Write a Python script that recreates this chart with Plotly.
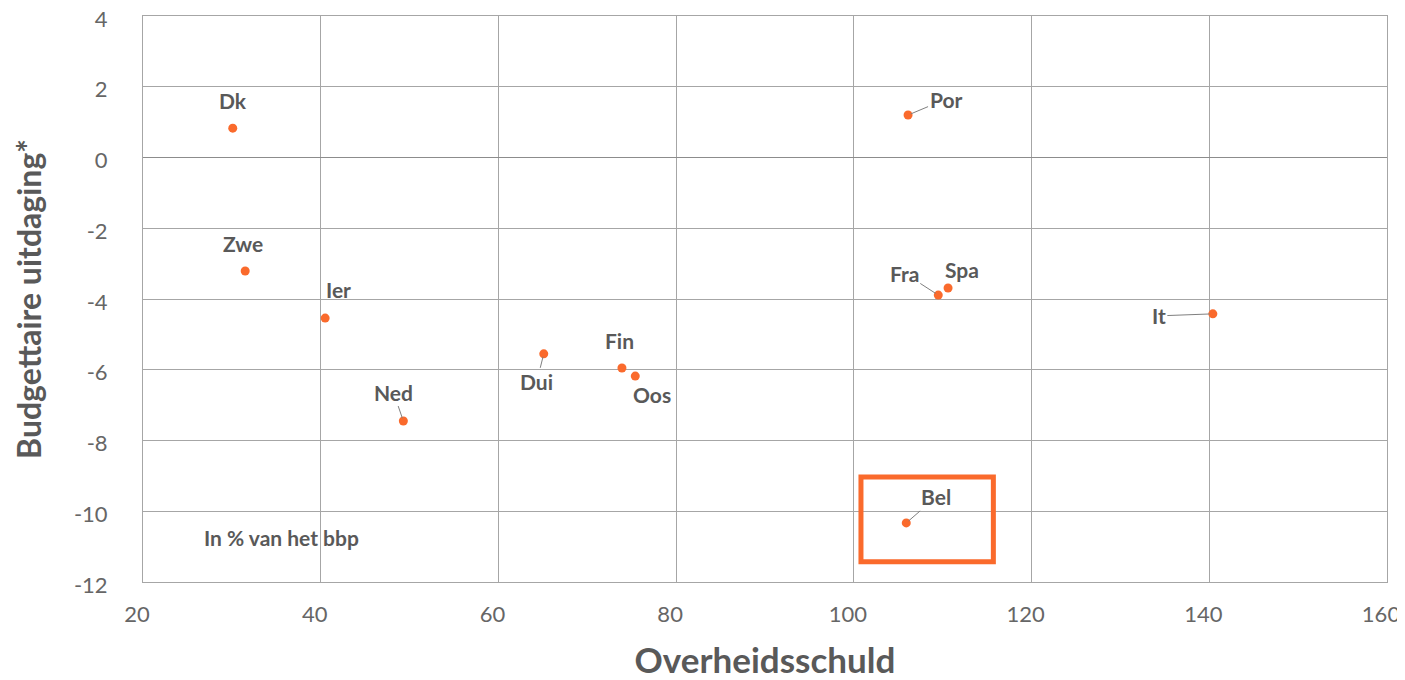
import plotly.graph_objects as go

countries = ["Dk", "Zwe", "Ier", "Ned", "Dui", "Fin", "Oos", "Por", "Fra", "Spa", "It", "Bel"]
schuld = [30.1, 31.5, 40.5, 49.3, 65.1, 73.9, 75.4, 106.1, 109.5, 110.6, 140.4, 105.9]
uitdaging = [0.83, -3.21, -4.54, -7.45, -5.55, -5.95, -6.18, 1.2, -3.89, -3.69, -4.42, -10.33]

# label offsets in pixels (ax, ay) and whether a leader line is drawn
label_ax = [0, -2, 13, -10, -7, -2, 17, 38, -34, 14, -54, 30]
label_ay = [-28, -28, -29, -29, 28, -27, 18, -16, -22, -19, 2, -26]
leader = [False, False, False, True, True, False, False, True, True, False, True, True]

x_ticks = [20, 40, 60, 80, 100, 120, 140, 160]
x_ticktext = ["20", "40", "60", "80", "100", "120", "140", "160"]
y_ticks = [4, 2, 0, -2, -4, -6, -8, -10, -12]
y_ticktext = ["4", "2", "0", "-2", "-4", "-6", "-8", "-10", "-12"]

ORANGE = "#FA6A2C"
GREY = "#595959"
TICKGREY = "#666666"
GRID = "#A6A6A6"
FONT = "Lato, 'Open Sans', sans-serif"

fig = go.Figure()
fig.add_trace(go.Scatter(
    x=schuld, y=uitdaging, mode="markers",
    marker=dict(color=ORANGE, size=9),
    hovertext=countries, showlegend=False,
))

for c, xv, yv, ax, ay, ld in zip(countries, schuld, uitdaging, label_ax, label_ay, leader):
    fig.add_annotation(
        x=xv, y=yv, text="<b>%s</b>" % c,
        showarrow=True, ax=ax, ay=ay,
        arrowhead=0, arrowwidth=1,
        arrowcolor="#7F7F7F" if ld else "rgba(0,0,0,0)",
        standoff=3, startstandoff=0,
        font=dict(family=FONT, size=21, color=GREY),
    )

fig.add_annotation(
    x=35.6, y=-10.73, text="<b>In % van het bbp</b>", showarrow=False,
    font=dict(family=FONT, size=21, color=GREY),
)

# highlight box around Belgium
fig.add_shape(
    type="rect", x0=100.8, x1=115.7, y0=-11.43, y1=-9.03,
    line=dict(color=ORANGE, width=5), fillcolor="rgba(0,0,0,0)",
)

fig.update_xaxes(
    range=[20, 160], tickvals=x_ticks, ticktext=x_ticktext,
    showgrid=True, gridcolor=GRID, gridwidth=1,
    zeroline=False, showline=True, linecolor=GRID, mirror=True, automargin=False,
    ticklabeloverflow="allow", ticklabelshift=-6,
    tickfont=dict(family=FONT, size=22, color=TICKGREY), ticklabelstandoff=13,
    title=dict(text="<b>Overheidsschuld</b>", font=dict(family=FONT, size=35, color=GREY), standoff=36),
)
fig.update_yaxes(
    range=[-12, 4], tickvals=y_ticks, ticktext=y_ticktext,
    showgrid=True, gridcolor=GRID, gridwidth=1,
    zeroline=True, zerolinecolor="#8C8C8C", zerolinewidth=1,
    showline=True, linecolor=GRID, mirror=True, automargin=False,
    ticklabeloverflow="allow", ticklabelshift=3,
    tickfont=dict(family=FONT, size=22, color=TICKGREY), ticklabelstandoff=30,
    title=dict(text="<b>Budgettaire uitdaging*</b>", font=dict(family=FONT, size=32, color=GREY), standoff=22),
)

# the page body adds an 8px offset, so the figure is sized to fit the window
fig.update_layout(
    width=1397, height=672,
    margin=dict(l=135, r=18, t=8, b=98),
    plot_bgcolor="white", paper_bgcolor="white",
)

fig.write_html("out.html")
